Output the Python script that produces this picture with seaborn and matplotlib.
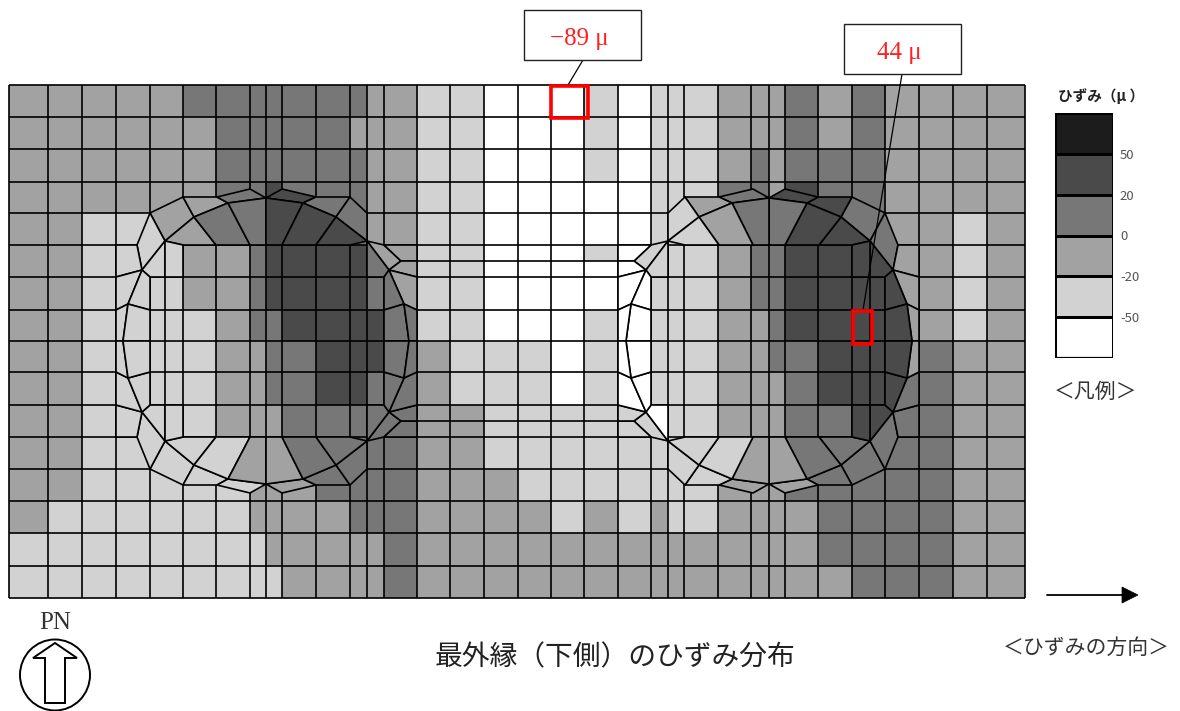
import numpy as np
import matplotlib
matplotlib.use('Agg')
import matplotlib.pyplot as plt
from matplotlib.collections import PolyCollection
from matplotlib.colors import ListedColormap
from matplotlib.patches import Ellipse, Polygon, Rectangle
import seaborn as sns

# strain legend, white = below -50, darkest = above 50
band_colors = ['#ffffff', '#d2d2d2', '#a2a2a2', '#777777', '#4a4a4a', '#1c1c1c']
band_ticks = ['50', '20', '0', '-20', '-50']

# mesh lines of the plate, in drawing units
col_edges = [9, 48, 82, 116, 150, 183, 216, 250, 266, 282, 316, 350, 367, 384, 417, 450, 484, 518,
             551, 584, 618, 651, 668, 684, 718, 751, 769, 785, 818, 852, 885, 919, 953, 987, 1025]
row_edges = [85, 117, 149, 182, 213, 245, 261, 277, 310, 341, 372, 405, 421, 437, 469, 501, 533, 566, 598]

# strain band of every rectangular element
band_rows = [
    '22222 3333333 22 11 000 1 0 111 222 3 2 3 2222',
    '222222 33333 2 22 11 000 1 0 111 222 3 2 3 2222',
    '222222 33333 3 22 11 000 1 0 111 2 3 2 3 3 3 2222',
    '222222 3 3 4 3 3 3 22 11 00000 111 3 3 2 4 3 3 2222',
    '22 11 1 2 2 3 4 4 4 3 22 11 00000 1 1 2 2 3 3 4 4 3 22 1 2',
    '22 11 1 22 3 4 4 4 4 3 2 11 000 1 0 111 2 3 3 4 4 4 2 2 1 2',
    '22 11 1 22 3 4 4 4 4 3 2 11 00000 111 2 3 3 4 4 4 2 2 1 2',
    '22 11 1 22 3 4 4 4 4 3 2 11 00000 111 2 3 3 4 4 4 2 2 1 2',
    '2 2 1 1 1 1 2 3 3 4 4 4 4 3 1 1 0 0 0 1 0 1 1 1 2 2 3 4 4 4 2 2 1 2',
    '2 2 1 1 1 1 2 2 3 3 4 4 4 3 2 1 1 1 0 1 0 1 1 1 2 2 3 3 4 4 2 3 2 2',
    '2 2 1 1 1 1 2 2 3 3 4 4 3 3 2 1 1 1 0 1 0 1 1 1 2 2 2 3 4 4 3 3 2 2',
    '2 2 1 1 1 1 2 2 2 3 3 3 3 3 2 2 1 1 1 1 1 0 1 1 2 2 2 3 3 4 3 3 2 2',
    '2 2 1 1 1 1 2 2 2 3 3 3 3 3 2 2 1 1 1 1 1 0 1 1 2 2 2 3 3 4 3 3 2 2',
    '2 2 1 1 1 1 1 2 2 3 3 3 3 3 2 2 1 1 1 1 1 1 1 1 2 2 2 3 3 3 3 3 2 2',
    '2 2 1 1 1 1 1 2 2 2 3 3 3 3 2 2 2 1 1 1 1 1 1 1 2 2 2 3 3 3 3 3 2 2',
    '2 1 1 1 1 1 1 2 2 2 2 3 3 3 2 2 2 2 1 2 1 2 1 1 2 2 2 2 3 3 3 3 2 2',
    '11111111 22222 3 22222222222222 3333 22',
    '111111111 2222 3 222222222222222 333 22',
]

# curved elements round the upper left part of a hole, mirrored for the other three
hole_cells = [
    [(150, 213), (183, 197), (194, 217), (165, 241)],
    [(183, 197), (217, 197), (228, 203), (194, 217)],
    [(217, 197), (250, 189), (266, 198), (228, 203)],
    [(266, 198), (282, 189), (316, 197), (303, 203)],
    [(316, 197), (350, 197), (336, 217), (303, 203)],
    [(350, 197), (367, 213), (367, 241), (336, 217)],
    [(165, 241), (194, 217), (216, 245), (183, 245)],
    [(194, 217), (228, 203), (250, 245), (216, 245)],
    [(228, 203), (266, 198), (266, 245), (250, 245)],
    [(266, 198), (303, 203), (282, 245), (266, 245)],
    [(303, 203), (336, 217), (316, 245), (282, 245)],
    [(336, 217), (367, 241), (350, 245), (316, 245)],
    [(150, 213), (137, 245), (142, 270), (165, 241)],
    [(165, 241), (142, 270), (150, 277), (165, 277)],
    [(165, 241), (183, 245), (183, 277), (165, 277)],
    [(116, 245), (137, 245), (142, 270), (116, 277)],
    [(116, 277), (142, 270), (128, 304), (116, 310)],
    [(142, 270), (150, 277), (150, 310), (128, 304)],
    [(116, 310), (128, 304), (123, 341), (116, 341)],
    [(128, 304), (150, 310), (150, 341), (123, 341)],
    [(367, 241), (384, 245), (401, 261), (389, 270)],
    [(367, 241), (389, 270), (384, 277), (367, 277)],
    [(384, 245), (417, 245), (417, 261), (401, 261)],
    [(401, 261), (417, 261), (417, 277), (389, 270)],
    [(389, 270), (417, 277), (417, 310), (404, 304)],
    [(389, 270), (404, 304), (384, 310), (384, 277)],
    [(384, 310), (404, 304), (409, 341), (384, 341)],
    [(404, 304), (417, 310), (417, 341), (409, 341)],
]
left_top = [2, 2, 3, 4, 3, 3, 2, 3, 3, 4, 4, 4, 1, 1, 1, 1, 1, 1, 1, 1, 2, 3, 2, 2, 2, 3, 3, 3]
left_bottom = [1, 1, 1, 2, 3, 3, 1, 1, 2, 2, 3, 3, 1, 1, 1, 1, 1, 1, 1, 1, 3, 3, 3, 3, 3, 3, 3, 3]
right_top = [3, 4, 4, 3, 2, 1, 4, 4, 3, 3, 2, 1, 3, 4, 4, 2, 2, 4, 2, 4, 1, 1, 0, 0, 0, 0, 0, 0]
right_bottom = [3, 3, 2, 2, 1, 1, 3, 3, 2, 2, 1, 1, 3, 4, 4, 3, 3, 4, 2, 4, 1, 0, 1, 1, 0, 0, 0, 0]

callouts = ['\u221289 \u03bc', '44 \u03bc']

cjk = ['Noto Sans CJK JP', 'DejaVu Sans']
serif = ['Liberation Serif', 'DejaVu Serif']
W, H = 1180, 711
MX, MY = 1035, 682
LW = 1.2

sns.set_theme(style='white')
plt.rcParams['font.family'] = cjk
cmap = ListedColormap(band_colors)

fig = plt.figure(figsize=(W / 100, H / 100), dpi=100)
fig.patch.set_facecolor('white')


def place(x0, y0, x1, y1):
    return fig.add_axes([x0 / W, 1 - y1 / H, (x1 - x0) / W, (y1 - y0) / H])


bands = np.array([[int(c) for c in r.replace(' ', '')] for r in band_rows])
fine = np.repeat(np.repeat(bands, np.diff(row_edges), axis=0), np.diff(col_edges), axis=1)

ax = place(col_edges[0], row_edges[0], col_edges[-1], row_edges[-1])
sns.heatmap(fine, ax=ax, cmap=cmap, vmin=0, vmax=5, cbar=False, xticklabels=False, yticklabels=False)

# everything else is laid over the picture in drawing units
top = fig.add_axes([0, 0, 1, 1])
top.set_xlim(0, W)
top.set_ylim(H, 0)
top.axis('off')
top.patch.set_alpha(0)

full_rows = [y for y in row_edges if y not in (261, 421)]
top.hlines(full_rows, col_edges[0], col_edges[-1], color='black', lw=LW, zorder=2)
top.vlines(col_edges, row_edges[0], row_edges[-1], color='black', lw=LW, zorder=2)
top.hlines([261, 421], 417, 618, color='black', lw=LW, zorder=2)
top.vlines([165, 870], 277, 405, color='black', lw=LW, zorder=2)

polys, poly_bands = [], []
for flip_x, flip_y, cell_bands in [(False, False, left_top), (False, True, left_bottom),
                                   (True, False, right_top), (True, True, right_bottom)]:
    for cell, band in zip(hole_cells, cell_bands):
        pts = np.array(cell, dtype=float)
        if flip_x:
            pts[:, 0] = MX - pts[:, 0]
        if flip_y:
            pts[:, 1] = MY - pts[:, 1]
        polys.append(pts)
        poly_bands.append(band)
mesh = PolyCollection(polys, array=np.array(poly_bands), cmap=cmap, edgecolors='black', linewidths=LW, zorder=3)
mesh.set_clim(0, 5)
top.add_collection(mesh)

# hot spots and their callouts
top.add_patch(Rectangle((551, 86), 37, 32, fill=False, ec='#ff0000', lw=2.6, zorder=5))
top.add_patch(Rectangle((853, 311), 19, 33, fill=False, ec='#ff0000', lw=2.6, zorder=5))
top.plot([583, 568], [60, 85], color='black', lw=0.9, zorder=4)
top.plot([902, 863], [74, 310], color='black', lw=0.9, zorder=4)
for x0, y0, label in [(524, 10, callouts[0]), (844, 24, callouts[1])]:
    top.add_patch(Rectangle((x0, y0), 117, 50, fc='white', ec='#222222', lw=1.0, zorder=4))
    top.text(x0 + 55, y0 + 29, label, color='#ff2020', family=serif, fontsize=18, ha='center', va='center', zorder=5)

# legend
leg = place(1055, 113, 1113, 358)
sns.heatmap(np.array([[5], [4], [3], [2], [1], [0]]), ax=leg, cmap=cmap, vmin=0, vmax=5, cbar=False,
            xticklabels=False, yticklabels=False, linewidths=0.8, linecolor='black')
leg.hlines([0, 6], 0, 1, color='black', lw=1.6)
leg.vlines([0, 1], 0, 6, color='black', lw=1.4)
leg.set_yticks(range(1, 6))
leg.set_yticklabels(band_ticks, family=cjk, fontsize=9.5, color='#555555')
leg.yaxis.tick_right()
leg.tick_params(axis='y', length=0, pad=5, labelright=True, labelleft=False, rotation=0)

top.text(1101, 96, 'ひずみ（μ ）', fontsize=10.5, color='#222222', fontweight='bold', ha='center', va='center')
top.text(1096, 392, '＜凡例＞', fontsize=15, color='#333333', ha='center', va='center')
top.text(615, 657, '最外縁（下側）のひずみ分布', fontsize=20, color='#222222', ha='center', va='center')
top.text(1086, 648, '＜ひずみの方向＞', fontsize=15, color='#333333', ha='center', va='center')
top.text(55, 623, 'PN', family=serif, fontsize=18, color='#333333', ha='center', va='center')

# direction arrow
top.plot([1047, 1124], [595, 595], color='black', lw=1.3)
top.add_patch(Polygon([(1122, 587), (1138, 595), (1122, 603)], fc='black', ec='black', lw=0.5))

# north mark
top.add_patch(Ellipse((55, 675), 70, 71, fc='white', ec='black', lw=1.4))
top.add_patch(Polygon([(55, 643), (77, 658), (65, 658), (65, 703), (45, 703), (45, 658), (33, 658)],
                      fc='white', ec='black', lw=1.4))

plt.savefig('out.png', dpi=100)
